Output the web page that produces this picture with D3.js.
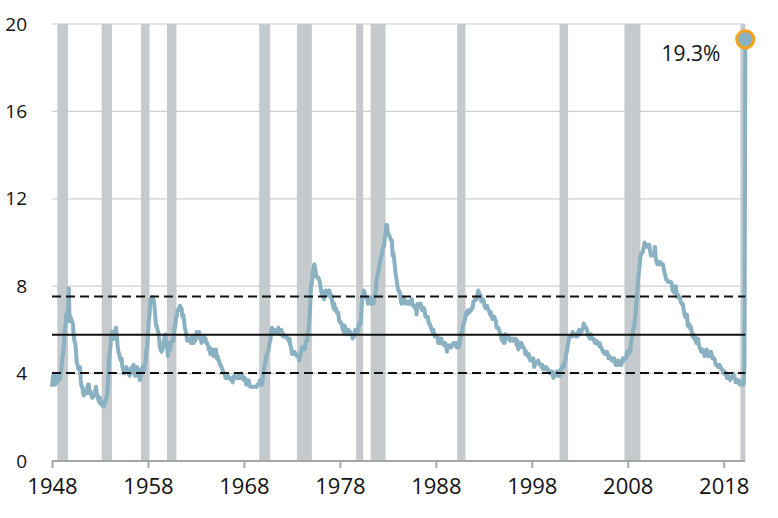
<!DOCTYPE html>
<html>
<head>
<meta charset="utf-8">
<script src="https://cdn.jsdelivr.net/npm/d3@7"></script>
<style>
  html, body { margin: 0; padding: 0; background: #fff; }
  svg text { font-family: "Open Sans", "Noto Sans", sans-serif; fill: #111; }
</style>
</head>
<body>
<svg id="chart" width="778" height="518"></svg>
<script>
// ---- data ----
const startYear = 1948; // first value = January 1948, monthly
const monthlyRate = [
  3.4,3.8,4.0,3.9,3.5,3.6,3.6,3.9,3.8,3.7,3.8,4.0, // 1948
  4.3,4.7,5.0,5.3,6.1,6.2,6.7,6.8,6.6,7.9,6.4,6.6, // 1949
  6.5,6.4,6.3,5.8,5.5,5.4,5.0,4.5,4.4,4.2,4.2,4.3, // 1950
  3.7,3.4,3.4,3.1,3.0,3.2,3.1,3.1,3.3,3.5,3.5,3.1, // 1951
  3.2,3.1,2.9,2.9,3.0,3.0,3.2,3.4,3.1,3.0,2.8,2.7, // 1952
  2.9,2.6,2.6,2.7,2.5,2.5,2.6,2.7,2.9,3.1,3.5,4.5, // 1953
  4.9,5.2,5.7,5.9,5.9,5.6,5.8,6.0,6.1,5.7,5.3,5.0, // 1954
  4.9,4.7,4.6,4.7,4.3,4.2,4.0,4.2,4.1,4.3,4.2,4.2, // 1955
  4.0,3.9,4.2,4.0,4.3,4.3,4.4,4.1,3.9,3.9,4.3,4.2, // 1956
  4.2,3.9,3.7,3.9,4.1,4.3,4.2,4.1,4.4,4.5,5.1,5.2, // 1957
  5.8,6.4,6.7,7.4,7.4,7.3,7.5,7.4,7.1,6.7,6.2,6.2, // 1958
  6.0,5.9,5.6,5.2,5.1,5.0,5.1,5.2,5.5,5.7,5.8,5.3, // 1959
  5.2,4.8,5.4,5.2,5.1,5.4,5.5,5.6,5.5,6.1,6.1,6.6, // 1960
  6.6,6.9,6.9,7.0,7.1,6.9,7.0,6.6,6.7,6.5,6.1,6.0, // 1961
  5.8,5.5,5.6,5.6,5.5,5.5,5.4,5.7,5.6,5.4,5.7,5.5, // 1962
  5.7,5.9,5.7,5.7,5.9,5.6,5.6,5.4,5.5,5.5,5.7,5.5, // 1963
  5.6,5.4,5.4,5.3,5.1,5.2,4.9,5.0,5.1,5.1,4.8,5.0, // 1964
  4.9,5.1,4.7,4.8,4.6,4.6,4.4,4.4,4.3,4.2,4.1,4.0, // 1965
  4.0,3.8,3.8,3.8,3.9,3.8,3.8,3.8,3.7,3.7,3.6,3.8, // 1966
  3.9,3.8,3.8,3.8,3.8,3.9,3.8,3.8,3.8,4.0,3.9,3.8, // 1967
  3.7,3.8,3.7,3.5,3.5,3.7,3.7,3.5,3.4,3.4,3.4,3.4, // 1968
  3.4,3.4,3.4,3.4,3.4,3.5,3.5,3.5,3.7,3.7,3.5,3.5, // 1969
  3.9,4.2,4.4,4.6,4.8,4.9,5.0,5.1,5.4,5.5,5.9,6.1, // 1970
  5.9,5.9,6.0,5.9,5.9,5.9,6.0,6.1,6.0,5.8,6.0,6.0, // 1971
  5.8,5.7,5.8,5.7,5.7,5.7,5.6,5.6,5.5,5.6,5.3,5.2, // 1972
  4.9,5.0,4.9,5.0,4.9,4.9,4.8,4.8,4.8,4.6,4.8,4.9, // 1973
  5.1,5.2,5.1,5.1,5.1,5.4,5.5,5.5,5.9,6.0,6.6,7.2, // 1974
  8.1,8.1,8.6,8.8,9.0,8.8,8.6,8.4,8.4,8.4,8.3,8.2, // 1975
  7.9,7.7,7.6,7.7,7.4,7.6,7.8,7.8,7.6,7.7,7.8,7.8, // 1976
  7.5,7.6,7.4,7.2,7.0,7.2,6.9,7.0,6.8,6.8,6.8,6.4, // 1977
  6.4,6.3,6.3,6.1,6.0,5.9,6.2,5.9,6.0,5.8,5.9,6.0, // 1978
  5.9,5.9,5.8,5.8,5.6,5.7,5.7,6.0,5.9,6.0,5.9,6.0, // 1979
  6.3,6.3,6.3,6.9,7.5,7.6,7.8,7.7,7.5,7.5,7.5,7.2, // 1980
  7.5,7.4,7.4,7.2,7.5,7.5,7.2,7.4,7.6,7.9,8.3,8.5, // 1981
  8.6,8.9,9.0,9.3,9.4,9.6,9.8,9.8,10.1,10.4,10.8,10.8, // 1982
  10.4,10.4,10.3,10.2,10.1,10.1,9.4,9.5,9.2,8.8,8.5,8.3, // 1983
  8.0,7.8,7.8,7.7,7.4,7.2,7.5,7.5,7.3,7.4,7.2,7.3, // 1984
  7.3,7.2,7.2,7.3,7.2,7.4,7.4,7.1,7.1,7.1,7.0,7.0, // 1985
  6.7,7.2,7.2,7.1,7.2,7.2,7.0,6.9,7.0,7.0,6.9,6.6, // 1986
  6.6,6.6,6.6,6.3,6.3,6.2,6.1,6.0,5.9,6.0,5.8,5.7, // 1987
  5.7,5.7,5.7,5.4,5.6,5.4,5.4,5.6,5.4,5.4,5.3,5.3, // 1988
  5.4,5.2,5.0,5.2,5.2,5.3,5.2,5.2,5.3,5.3,5.4,5.4, // 1989
  5.4,5.3,5.2,5.4,5.4,5.2,5.5,5.7,5.9,5.9,6.2,6.3, // 1990
  6.4,6.6,6.8,6.7,6.9,6.9,6.8,6.9,6.9,7.0,7.0,7.3, // 1991
  7.3,7.4,7.4,7.4,7.6,7.8,7.7,7.6,7.6,7.3,7.4,7.4, // 1992
  7.3,7.1,7.0,7.1,7.1,7.0,6.9,6.8,6.7,6.8,6.6,6.5, // 1993
  6.6,6.6,6.5,6.4,6.1,6.1,6.1,6.0,5.9,5.8,5.6,5.5, // 1994
  5.6,5.4,5.4,5.8,5.6,5.6,5.7,5.7,5.6,5.5,5.6,5.6, // 1995
  5.6,5.5,5.5,5.6,5.6,5.3,5.5,5.1,5.2,5.2,5.4,5.4, // 1996
  5.3,5.2,5.2,5.1,4.9,5.0,4.9,4.8,4.9,4.7,4.6,4.7, // 1997
  4.6,4.6,4.7,4.3,4.4,4.5,4.5,4.5,4.6,4.5,4.4,4.4, // 1998
  4.3,4.4,4.2,4.3,4.2,4.3,4.3,4.2,4.2,4.1,4.1,4.0, // 1999
  4.0,4.1,4.0,3.8,4.0,4.0,4.0,4.1,3.9,3.9,3.9,3.9, // 2000
  4.2,4.2,4.3,4.4,4.3,4.5,4.6,4.9,5.0,5.3,5.5,5.7, // 2001
  5.7,5.7,5.7,5.9,5.8,5.8,5.8,5.7,5.7,5.7,5.9,6.0, // 2002
  5.8,5.9,5.9,6.0,6.1,6.3,6.2,6.1,6.1,6.0,5.8,5.7, // 2003
  5.7,5.6,5.8,5.6,5.6,5.6,5.5,5.4,5.4,5.5,5.4,5.4, // 2004
  5.3,5.4,5.2,5.2,5.1,5.0,5.0,4.9,5.0,5.0,5.0,4.9, // 2005
  4.7,4.8,4.7,4.7,4.6,4.6,4.7,4.7,4.5,4.4,4.5,4.4, // 2006
  4.6,4.5,4.4,4.5,4.4,4.6,4.7,4.6,4.7,4.7,4.7,5.0, // 2007
  5.0,4.9,5.1,5.0,5.4,5.6,5.8,6.1,6.1,6.5,6.8,7.3, // 2008
  7.8,8.3,8.7,9.0,9.4,9.5,9.5,9.6,9.8,10.0,9.9,9.9, // 2009
  9.8,9.8,9.9,9.9,9.6,9.4,9.4,9.5,9.5,9.4,9.8,9.3, // 2010
  9.1,9.0,9.0,9.1,9.0,9.1,9.0,9.0,9.0,8.8,8.6,8.5, // 2011
  8.3,8.3,8.2,8.2,8.2,8.2,8.2,8.1,7.8,7.8,7.7,7.9, // 2012
  8.0,7.7,7.5,7.6,7.5,7.5,7.3,7.2,7.2,7.2,6.9,6.7, // 2013
  6.6,6.7,6.7,6.2,6.3,6.1,6.2,6.1,5.9,5.7,5.8,5.6, // 2014
  5.7,5.5,5.4,5.4,5.6,5.3,5.2,5.1,5.0,5.0,5.1,5.0, // 2015
  4.8,4.9,5.0,5.1,4.8,4.9,4.8,4.9,5.0,4.9,4.7,4.7, // 2016
  4.7,4.6,4.4,4.4,4.4,4.3,4.3,4.4,4.3,4.2,4.2,4.1, // 2017
  4.0,4.1,4.0,4.0,3.8,4.0,3.8,3.8,3.7,3.8,3.8,3.9, // 2018
  4.0,3.8,3.8,3.6,3.6,3.7,3.7,3.7,3.5,3.6,3.5,3.5, // 2019
  3.6,3.5,4.4,19.3                                  // 2020
];
const finalLabel = "19.3%";

// recession bands [start, end] in decimal years
const recessionStart = [1948.55, 1953.18, 1957.27, 1959.98, 1969.59, 1973.52, 1979.70, 1981.20, 1990.22, 2000.89, 2007.66, 2019.74];
const recessionEnd   = [1949.67, 1954.25, 1958.16, 1960.97, 1970.74, 1975.08, 1980.43, 1982.76, 1991.09, 2001.78, 2009.32, 2020.25];

// long-run mean and +/- one standard deviation
const meanRate = 5.78;
const sdRate = 1.75;

const xTicks = [1948, 1958, 1968, 1978, 1988, 1998, 2008, 2018];
const yTicks = [0, 4, 8, 12, 16, 20];

// ---- chart ----
const W = 778, H = 518;
const m = { left: 52, right: 32.7, top: 24, bottom: 57 };
const svg = d3.select("#chart");

const series = monthlyRate.map((v, i) => ({ t: startYear + i / 12, v }));
const last = series[series.length - 1];

const x = d3.scaleLinear().domain([startYear, last.t]).range([m.left, W - m.right]);
const y = d3.scaleLinear().domain([0, 20]).range([H - m.bottom, m.top]);

// gridlines
svg.append("g").selectAll("line").data(yTicks.filter(d => d > 0)).join("line")
  .attr("x1", x.range()[0]).attr("x2", x.range()[1])
  .attr("y1", d => y(d)).attr("y2", d => y(d))
  .attr("stroke", "#cfcfcf").attr("stroke-width", 1.2);

// recession bands
svg.append("g").selectAll("rect").data(recessionStart.map((s, i) => [s, recessionEnd[i]])).join("rect")
  .attr("x", d => x(d[0]))
  .attr("width", d => Math.min(x(d[1]), x.range()[1]) - x(d[0]))
  .attr("y", y(20)).attr("height", y(0) - y(20))
  .attr("fill", "#c5cacd");

// x axis
const xAxis = d3.axisBottom(x).tickValues(xTicks).tickFormat(d3.format("d")).tickSize(7).tickPadding(10);
const gx = svg.append("g").attr("transform", `translate(0,${y(0)})`).call(xAxis);
gx.select(".domain").attr("stroke", "#a6a6a6").attr("stroke-width", 2).attr("d", `M${x.range()[0]},0H${x.range()[1]}`);
gx.selectAll(".tick line").attr("stroke", "#a6a6a6").attr("stroke-width", 2);
gx.selectAll(".tick text").attr("font-size", 22).attr("fill", "#111")
  .style("font-family", '"Open Sans", "Noto Sans", sans-serif');

// y axis labels
const yAxis = d3.axisLeft(y).tickValues(yTicks).tickSize(0).tickPadding(0);
const gy = svg.append("g").attr("transform", `translate(27,0)`).call(yAxis);
gy.select(".domain").remove();
gy.selectAll(".tick text").attr("font-size", 19).attr("fill", "#111")
  .style("font-family", '"Open Sans", "Noto Sans", sans-serif');

// line
const line = d3.line().x(d => x(d.t)).y(d => y(d.v));
svg.append("path").datum(series)
  .attr("d", line)
  .attr("fill", "none")
  .attr("stroke", "#8ab1c2")
  .attr("stroke-width", 4)
  .attr("stroke-linejoin", "round");

// reference lines
const refs = [
  { v: meanRate + sdRate, dash: "9,5" },
  { v: meanRate, dash: null },
  { v: meanRate - sdRate, dash: "9,5" }
];
svg.append("g").selectAll("line").data(refs).join("line")
  .attr("x1", x.range()[0]).attr("x2", x.range()[1])
  .attr("y1", d => y(d.v)).attr("y2", d => y(d.v))
  .attr("stroke", "#111").attr("stroke-width", 2)
  .attr("stroke-dasharray", d => d.dash);

// final point
svg.append("circle")
  .attr("cx", x(last.t)).attr("cy", y(last.v)).attr("r", 8.6)
  .attr("fill", "#8ab1c2").attr("stroke", "#f7a21b").attr("stroke-width", 3);

svg.append("text")
  .attr("x", x(last.t) - 25).attr("y", y(last.v) + 22)
  .attr("text-anchor", "end")
  .attr("font-size", 21)
  .text(finalLabel);
</script>
</body>
</html>
